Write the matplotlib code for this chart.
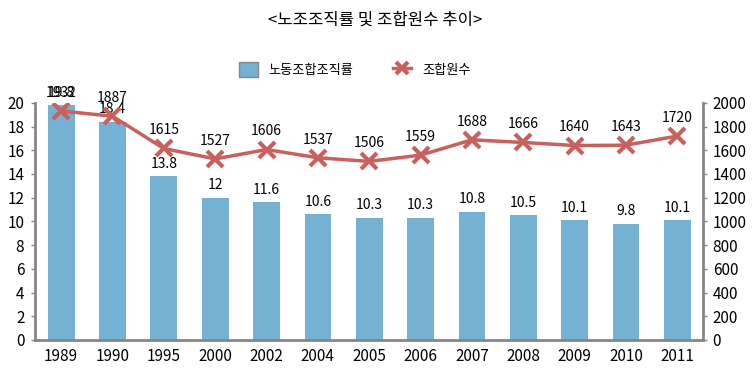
import matplotlib
matplotlib.use("Agg")
from matplotlib import pyplot as plt
from matplotlib.lines import Line2D
from matplotlib.patches import Patch

plt.rcParams['font.family'] = ['Liberation Sans Narrow', 'Noto Sans CJK KR', 'DejaVu Sans']

years = ['1989', '1990', '1995', '2000', '2002', '2004', '2005', '2006',
         '2007', '2008', '2009', '2010', '2011']
rate = [19.8, 18.4, 13.8, 12, 11.6, 10.6, 10.3, 10.3, 10.8, 10.5, 10.1, 9.8, 10.1]
members = [1932, 1887, 1615, 1527, 1606, 1537, 1506, 1559, 1688, 1666, 1640, 1643, 1720]

bar_color = '#74B1D3'
line_color = '#C8605E'
axis_color = '#868686'

fig = plt.figure(figsize=(7.55, 3.74), dpi=100)
ax = fig.add_axes([0.047, 0.091, 0.884, 0.634])
ax2 = ax.twinx()

x = list(range(len(years)))
ax.bar(x, rate, width=0.52, color=bar_color, zorder=2)
ax2.plot(x, members, color=line_color, linewidth=2.5, marker='x',
         markersize=11, markeredgewidth=3, zorder=3)

# bar values sit just above each bar
for i, v in enumerate(rate):
    ax.annotate(f"{v:g}", (i, v), xytext=(0, 4), textcoords='offset points',
                ha='center', va='bottom', fontsize=10)
# member counts above the markers
for i, v in enumerate(members):
    ax2.annotate(str(v), (i, v), xytext=(0, 8), textcoords='offset points',
                 ha='center', va='bottom', fontsize=10)

ax.set_xlim(-0.5, len(years) - 0.5)
ax.set_ylim(0, 20)
ax.set_yticks(range(0, 21, 2))
ax2.set_ylim(0, 2000)
ax2.set_yticks(range(0, 2001, 200))
ax.set_xticks(x)
ax.set_xticklabels(years)

for a in (ax, ax2):
    for s in a.spines.values():
        s.set_visible(False)
    a.tick_params(labelsize=11, color=axis_color, length=3, width=1)
ax.spines['left'].set_visible(True)
ax.spines['bottom'].set_visible(True)
ax2.spines['right'].set_visible(True)
for s in (ax.spines['left'], ax.spines['bottom'], ax2.spines['right']):
    s.set_color(axis_color)
    s.set_linewidth(2)
ax.tick_params(axis='x', length=0, pad=6)
ax.tick_params(axis='y', pad=5)
ax2.tick_params(axis='y', pad=4)

fig.text(0.497, 0.945, '<노조조직률 및 조합원수 추이>', ha='center', va='center',
         fontsize=12, family=['Noto Sans CJK KR', 'DejaVu Sans'])

handles = [Patch(facecolor=bar_color, edgecolor=axis_color),
           Line2D([], [], color=line_color, linewidth=2.5, marker='x',
                  markersize=9, markeredgewidth=3)]
fig.legend(handles, ['노동조합조직률', '조합원수'], loc='center',
           bbox_to_anchor=(0.47, 0.815), ncol=2, frameon=False,
           prop={'family': ['Noto Sans CJK KR', 'DejaVu Sans'], 'size': 9.5},
           columnspacing=3.0, handlelength=1.4, handleheight=1.4,
           handletextpad=0.8)

fig.savefig('out.png', dpi=100)
